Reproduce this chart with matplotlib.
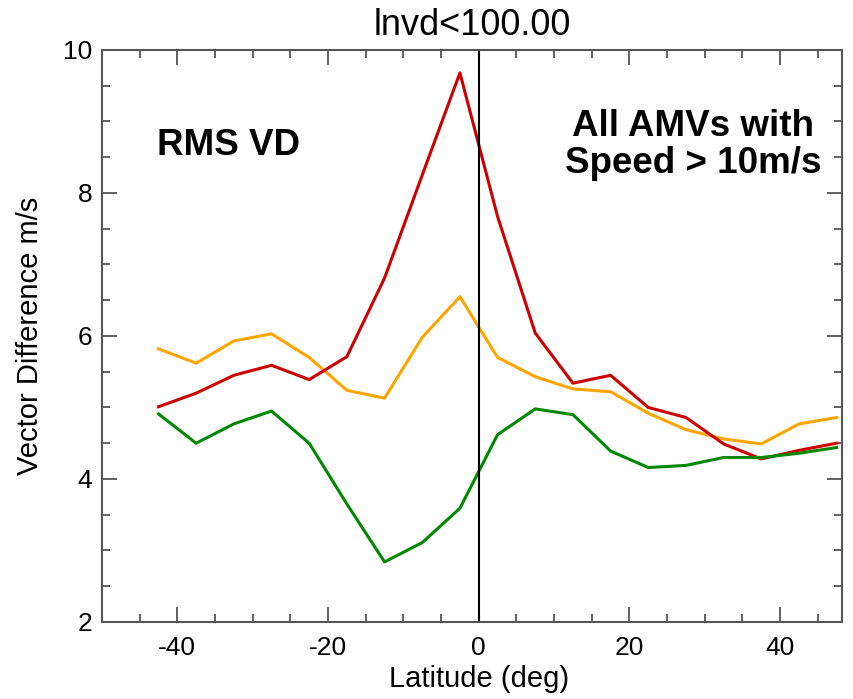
import matplotlib
matplotlib.use("Agg")
import matplotlib.pyplot as plt
from matplotlib.ticker import MultipleLocator

plt.rcParams['font.family'] = ['Liberation Sans', 'DejaVu Sans']
plt.rcParams['axes.unicode_minus'] = False

latitude = [-42.5, -37.5, -32.5, -27.5, -22.5, -17.5, -12.5, -7.5, -2.5, 2.5,
            7.5, 12.5, 17.5, 22.5, 27.5, 32.5, 37.5, 42.5, 47.5]
red_vals = [5.01, 5.20, 5.45, 5.59, 5.39, 5.71, 6.81, 8.25, 9.68, 7.67,
            6.04, 5.34, 5.45, 5.00, 4.86, 4.49, 4.28, 4.40, 4.50]
orange_vals = [5.82, 5.62, 5.93, 6.03, 5.70, 5.24, 5.13, 5.98, 6.55, 5.70,
               5.43, 5.26, 5.22, 4.92, 4.69, 4.56, 4.49, 4.77, 4.86]
green_vals = [4.91, 4.50, 4.77, 4.95, 4.50, 3.65, 2.84, 3.11, 3.59, 4.62,
              4.98, 4.90, 4.39, 4.16, 4.19, 4.30, 4.30, 4.36, 4.44]

title = "lnvd<100.00"
xlabel = "Latitude (deg)"
ylabel = "Vector Difference m/s"
left_text = "RMS VD"
right_text = "All AMVs with\nSpeed > 10m/s"

fig = plt.figure(figsize=(8.54, 6.99), dpi=100)
ax = fig.add_axes([0.1194, 0.1102, 0.8665, 0.8183])

ax.plot(latitude, orange_vals, color='#FFA500', lw=2.2)
ax.plot(latitude, red_vals, color='#CC0000', lw=2.2)
ax.plot(latitude, green_vals, color='#008800', lw=2.2)
ax.axvline(0, color='black', lw=1.5)

ax.set_xlim(-50, 48.2)
ax.set_ylim(2, 10)
ax.xaxis.set_major_locator(MultipleLocator(20))
ax.xaxis.set_minor_locator(MultipleLocator(5))
ax.yaxis.set_major_locator(MultipleLocator(2))
ax.yaxis.set_minor_locator(MultipleLocator(0.5))

for s in ax.spines.values():
    s.set_color('#555555')
    s.set_linewidth(1.5)
ax.tick_params(which='both', direction='in', top=True, right=True,
               color='#555555', width=1.3, labelsize=19)
ax.tick_params(which='major', length=11)
ax.tick_params(which='minor', length=6)
ax.tick_params(axis='x', which='major', pad=10)
ax.tick_params(axis='y', which='major', pad=7)

ax.set_title(title, fontsize=26, pad=11)
ax.set_xlabel(xlabel, fontsize=21, labelpad=4)
ax.xaxis.label.set_x(0.509)
ax.set_ylabel(ylabel, fontsize=21, labelpad=14)

ax.text(-33.2, 8.67, left_text, fontsize=26.5, fontweight='bold',
        ha='center', va='center')
ax.text(28.4, 8.67, right_text, fontsize=26.5, fontweight='bold',
        ha='center', va='center', linespacing=1.08)

fig.savefig("out.png", dpi=100)
